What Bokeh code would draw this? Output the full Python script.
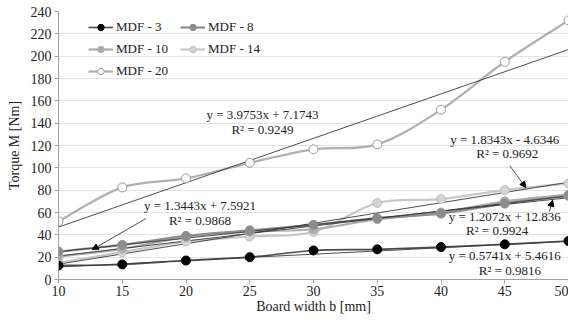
from bokeh.plotting import figure
from bokeh.models import (Legend, LegendItem, Arrow, NormalHead, Label,
                          FixedTicker, Range1d, ColumnDataSource)
from bokeh.embed import file_html
from bokeh.resources import INLINE

# ---------------- data ----------------
width_mm = [10, 15, 20, 25, 30, 35, 40, 45, 50]
mdf3 = [12.5, 13.5, 17, 20, 26, 27, 29, 31.5, 34.5]
mdf8 = [25, 31, 39, 44, 49, 55, 59, 68, 75]
mdf10 = [20.5, 27.5, 38, 43, 45, 54, 60, 70, 76]
mdf14 = [15, 24.5, 34, 38.5, 42.5, 68.5, 72, 80, 86]
mdf20 = [52, 82.5, 90.5, 104.5, 116.5, 121, 152, 195, 232]

series_names = ["MDF - 3", "MDF - 8", "MDF - 10", "MDF - 14", "MDF - 20"]
series_values = [mdf3, mdf8, mdf10, mdf14, mdf20]

# linear trend lines (slope, intercept) as printed on the chart
trend_slope = [0.5741, 1.2072, 1.3443, 1.8343, 3.9753]
trend_intercept = [5.4616, 12.836, 7.5921, -4.6346, 7.1743]
trend_r2 = ["0.9816", "0.9924", "0.9868", "0.9692", "0.9249"]

x_ticks = [10, 15, 20, 25, 30, 35, 40, 45, 50]
y_ticks = [0, 20, 40, 60, 80, 100, 120, 140, 160, 180, 200, 220, 240]

# ---------------- styles ----------------
FONT = "Liberation Serif"
TXT = "#222222"
line_colors = ["#4d4d4d", "#8c8c8c", "#acacac", "#c8c8c8", "#b0b0b0"]
marker_fill = ["#000000", "#8c8c8c", "#acacac", "#d4d4d4", "#ffffff"]
marker_line = ["#000000", "#8c8c8c", "#acacac", "#bdbdbd", "#9a9a9a"]

p = figure(width=568, height=316, output_backend="svg", toolbar_location=None,
           x_range=Range1d(10, 50), y_range=Range1d(0, 240),
           min_border_left=58, min_border_right=0, min_border_top=11,
           min_border_bottom=10)
p.outline_line_color = None
p.background_fill_color = "white"
p.border_fill_color = "white"

p.xgrid.grid_line_color = None
p.ygrid.grid_line_color = "#e3e3e3"
p.ygrid.grid_line_width = 1

p.xaxis.ticker = FixedTicker(ticks=x_ticks)
p.yaxis.ticker = FixedTicker(ticks=y_ticks)
for ax in (p.xaxis[0], p.yaxis[0]):
    ax.axis_line_color = "#a0a0a0"
    ax.major_tick_line_color = "#a0a0a0"
    ax.major_tick_out = 4
    ax.major_tick_in = 0
    ax.minor_tick_line_color = None
    ax.major_label_text_font = FONT
    ax.major_label_text_font_size = "14px"
    ax.major_label_text_color = TXT
    ax.axis_label_text_font = FONT
    ax.axis_label_text_font_size = "14px"
    ax.axis_label_text_font_style = "normal"
    ax.axis_label_text_color = TXT
p.xaxis.axis_label = "Board width b [mm]"
p.yaxis.axis_label = "Torque M [Nm]"
p.xaxis.major_label_standoff = 2
p.xaxis.axis_label_standoff = 0
p.yaxis.major_label_standoff = 3
p.yaxis.axis_label_standoff = 6


def smooth_segments(xs, ys):
    """Bezier control points for a smoothed line through the points."""
    n = len(xs)
    seg = dict(x0=[], y0=[], x1=[], y1=[], cx0=[], cy0=[], cx1=[], cy1=[])
    for i in range(n - 1):
        xm, ym = (xs[i - 1], ys[i - 1]) if i > 0 else (xs[i], ys[i])
        xp, yp = (xs[i + 2], ys[i + 2]) if i + 2 < n else (xs[i + 1], ys[i + 1])
        seg["x0"].append(xs[i]); seg["y0"].append(ys[i])
        seg["x1"].append(xs[i + 1]); seg["y1"].append(ys[i + 1])
        seg["cx0"].append(xs[i] + (xs[i + 1] - xm) / 6)
        seg["cy0"].append(ys[i] + (ys[i + 1] - ym) / 6)
        seg["cx1"].append(xs[i + 1] - (xp - xs[i]) / 6)
        seg["cy1"].append(ys[i + 1] - (yp - ys[i]) / 6)
    return seg


order = [4, 3, 2, 1, 0]
for k in order:
    src = ColumnDataSource(smooth_segments(width_mm, series_values[k]))
    p.bezier(x0="x0", y0="y0", x1="x1", y1="y1", cx0="cx0", cy0="cy0",
             cx1="cx1", cy1="cy1", source=src, line_color=line_colors[k],
             line_width=2.2 if k != 0 else 1.6)

# trend lines (thin dark)
for k in order:
    xs = [x_ticks[0], x_ticks[-1]]
    ys = [trend_slope[k] * xv + trend_intercept[k] for xv in xs]
    p.line(xs, ys, line_color="#3a3a3a", line_width=0.9)

for k in order:
    p.scatter(width_mm, series_values[k], size=9, marker="circle",
              fill_color=marker_fill[k], line_color=marker_line[k],
              line_width=1)

# legend-only renderers: line with a smaller marker in the middle
legend_items = []
for k in range(5):
    lg_line = p.line(x=[float("nan"), float("nan")], y=[float("nan"), float("nan")],
                     line_color=line_colors[k],
                     line_width=2.2 if k != 0 else 1.6)
    lg_mark = p.scatter(x=[float("nan")], y=[float("nan")], size=6,
                        marker="circle", fill_color=marker_fill[k],
                        line_color=marker_line[k], line_width=1)
    legend_items.append(LegendItem(label=series_names[k],
                                   renderers=[lg_line, lg_mark]))

legend = Legend(items=legend_items, orientation="horizontal", ncols=2,
                location=(30, 200), margin=0, border_line_color=None,
                background_fill_alpha=0, glyph_width=25, glyph_height=16,
                label_standoff=3, spacing=6, padding=0, label_width=58,
                label_text_font=FONT, label_text_font_size="13px",
                label_text_color=TXT, label_height=16)
p.add_layout(legend, "center")

# ---------------- trend equations ----------------
def eq_text(k):
    b = trend_intercept[k]
    sign = "+" if b >= 0 else "-"
    return f"y = {trend_slope[k]}x {sign} {abs(b)}"

ann = [
    # (series index, x, y, align, r2 x, r2 y)
    (4, 26.0, 148.0, "center", 26.0, 134.0),
    (2, 21.1, 66.0, "center", 21.1, 52.7),
    (3, 45.0, 125.0, "center", 45.2, 112.5),
    (1, 40.6, 56.3, "left", 44.4, 43.8),
    (0, 40.6, 21.4, "left", 45.4, 8.0),
]
for k, tx, ty, al, rx, ry in ann:
    p.add_layout(Label(x=tx, y=ty, text=eq_text(k), text_align=al,
                       text_baseline="middle", text_font=FONT,
                       text_font_size="13px", text_color=TXT))
    p.add_layout(Label(x=rx, y=ry, text=f"R² = {trend_r2[k]}",
                       text_align="center", text_baseline="middle",
                       text_font=FONT, text_font_size="13px",
                       text_color=TXT))

arrows = [
    (16.85, 54.5, 12.65, 26.8),
    (45.4, 101.8, 46.65, 82.3),
    (48.5, 60.7, 48.75, 71.0),
]
for xs_, ys_, xe_, ye_ in arrows:
    p.add_layout(Arrow(end=NormalHead(size=6, fill_color="black",
                                      line_color="black"),
                       x_start=xs_, y_start=ys_, x_end=xe_, y_end=ye_,
                       line_color=TXT, line_width=0.8))

open("out.html", "w").write(file_html(p, INLINE))
